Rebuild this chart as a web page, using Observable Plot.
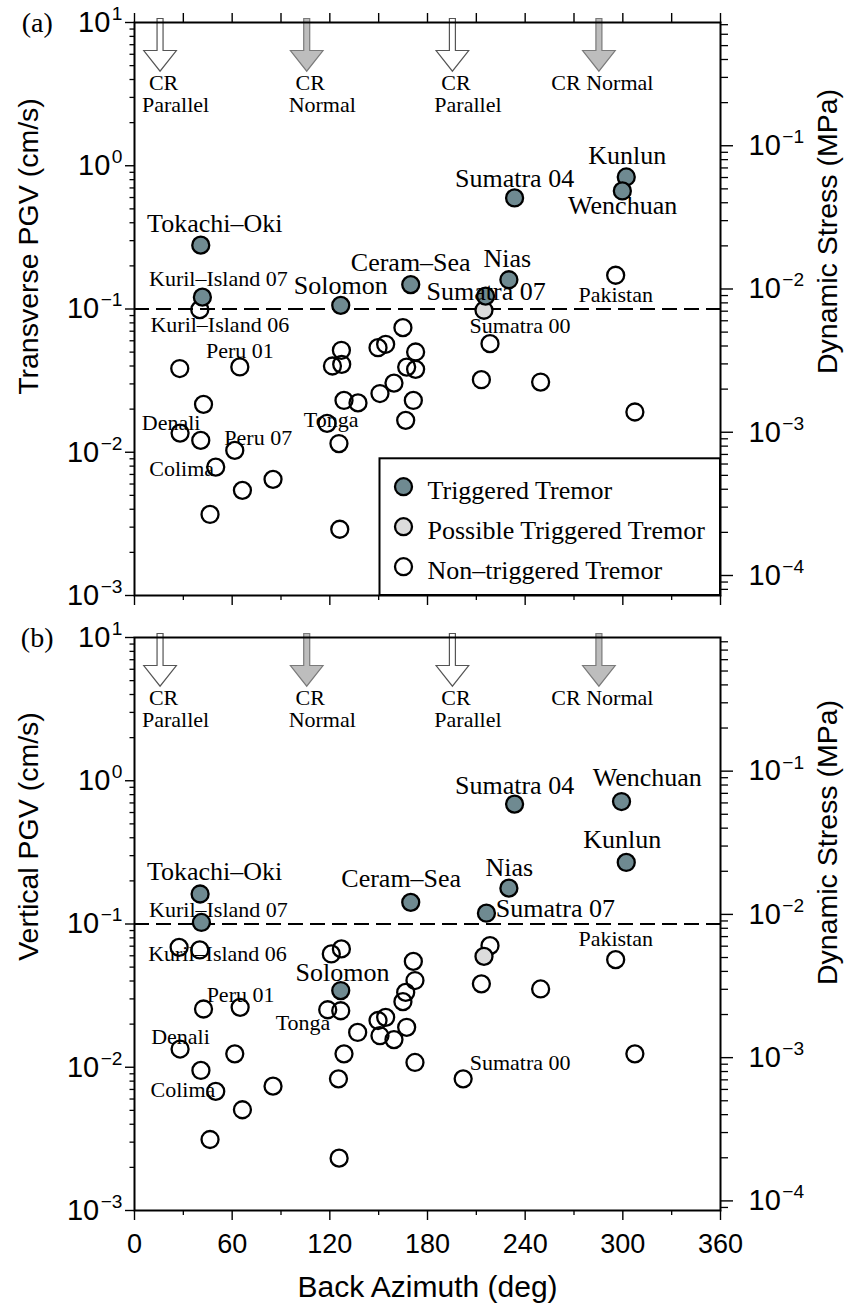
<!DOCTYPE html>
<html><head><meta charset="utf-8">
<script src="https://cdn.jsdelivr.net/npm/d3@7"></script>
<script src="https://cdn.jsdelivr.net/npm/@observablehq/plot@0.6"></script>
<style>
html,body{margin:0;padding:0;background:#fff;}
#chart svg{display:block;}
</style></head>
<body><div id="chart"></div>
<script>
// ---------------- data ----------------
const azimuthMajorTicks = [0, 60, 120, 180, 240, 300, 360];
const azimuthMinorTicks = [30, 90, 150, 210, 270, 330];
const pgvDecades = [1e-3, 1e-2, 1e-1, 1, 10];
const stressDecades = [1e-4, 1e-3, 1e-2, 1e-1];
const triggerThreshold = 0.1;          // cm/s
const stressPerPgvA = 0.0725;          // MPa per cm/s (transverse)
const stressPerPgvB = 0.0857;          // MPa per cm/s (vertical)

// CR arrows (coast-range parallel / normal directions)
const crAz = [15.7, 105.8, 195.3, 285.3];
const crKind = ["parallel", "normal", "parallel", "normal"];
const crLine1 = ["CR", "CR", "CR", "CR Normal"];
const crLine2 = ["Parallel", "Normal", "Parallel", ""];

// Triggered tremor events
const triggeredNames = ["Tokachi–Oki", "Kuril–Island 07", "Solomon", "Ceram–Sea", "Nias", "Sumatra 07", "Sumatra 04", "Kunlun", "Wenchuan"];
const trigAzA  = [40.7, 41.7, 126.7, 169.7, 230.0, 215.7, 233.5, 302.1, 299.7];
const trigPgvA = [0.279, 0.121, 0.106, 0.148, 0.160, 0.123, 0.596, 0.835, 0.667];
const trigAzB  = [40.3, 41.1, 126.7, 169.7, 230.0, 216.2, 233.5, 302.1, 299.2];
const trigPgvB = [0.162, 0.1025, 0.0343, 0.1416, 0.178, 0.119, 0.687, 0.269, 0.716];

// Possible triggered tremor
const possAzA = [214.7], possPgvA = [0.098], possNameA = ["Sumatra 00"];
const possAzB = [214.7], possPgvB = [0.0594], possNameB = [""];

// Non-triggered events, panel (a)
const openAzA = [40.1, 27.8, 64.7, 42.4, 28.0, 40.7, 61.6, 49.9, 66.3, 85.1, 46.4, 126.1, 118.3, 125.6, 127.1, 121.6, 127.3, 128.7, 137.3, 149.6, 154.3, 164.9, 172.7, 167.2, 172.7, 159.4, 150.8, 171.3, 166.6, 218.4, 213.1, 249.5, 307.4, 295.6];
const openPgvA = [0.099, 0.0384, 0.0394, 0.0216, 0.0136, 0.0121, 0.0103, 0.00788, 0.00542, 0.00647, 0.00368, 0.0029, 0.0159, 0.0115, 0.0515, 0.0400, 0.0411, 0.0230, 0.0221, 0.0537, 0.0567, 0.0741, 0.0501, 0.0393, 0.0379, 0.0304, 0.0257, 0.0230, 0.0167, 0.0573, 0.0321, 0.0309, 0.0191, 0.172];
const openNameA = ["Kuril–Island 06", "", "Peru 01", "", "Denali", "", "Peru 07", "Colima", "", "", "", "", "Tonga", "", "", "", "", "", "", "", "", "", "", "", "", "", "", "", "", "", "", "", "", "Pakistan"];

// Non-triggered events, panel (b)
const openAzB = [27.4, 40.1, 42.4, 64.9, 28.0, 61.6, 40.8, 49.9, 85.1, 66.3, 46.4, 125.7, 120.9, 127.1, 118.7, 126.7, 128.7, 125.3, 137.1, 171.3, 172.3, 166.6, 164.9, 149.6, 154.3, 150.8, 159.4, 167.2, 172.3, 218.4, 213.1, 249.5, 295.6, 307.4, 201.9];
const openPgvB = [0.0687, 0.0659, 0.0255, 0.0262, 0.0134, 0.0124, 0.0095, 0.00678, 0.00738, 0.00505, 0.00313, 0.00232, 0.0618, 0.067, 0.0252, 0.0248, 0.0124, 0.0083, 0.0175, 0.0548, 0.0403, 0.0333, 0.0287, 0.0212, 0.0223, 0.0166, 0.0156, 0.0190, 0.0108, 0.0706, 0.0382, 0.0352, 0.0564, 0.0124, 0.0083];
const openNameB = ["", "Kuril–Island 06", "", "Peru 01", "Denali", "", "", "Colima", "", "", "", "", "", "", "Tonga", "", "", "", "", "", "", "", "", "", "", "", "", "", "", "", "", "", "Pakistan", "", "Sumatra 00"];

const legendLabels = ["Triggered Tremor", "Possible Triggered Tremor", "Non–triggered Tremor"];

// ---------------- styling / layout ----------------
const serif = "'Liberation Serif', 'Times New Roman', Times, serif";
const sans = "'Liberation Sans', Arial, Helvetica, sans-serif";
const colTrig = "#6f8a91", colPoss = "#dcdcdc";
const BIG = 26, SMALL = 22, TICKFONT = 29;
// label offsets (px) relative to their event's point: [dx, dy(baseline), fontSize]
const labelLayoutA = {
  "Tokachi–Oki": [14, -13, BIG], "Kuril–Island 07": [16, -11, SMALL], "Kuril–Island 06": [20, 22.5, SMALL],
  "Peru 01": [0, -8.5, SMALL], "Denali": [-9, -3.5, SMALL], "Peru 07": [23.5, -5, SMALL],
  "Colima": [-34, 8.5, SMALL], "Tonga": [4, 3.7, SMALL], "Solomon": [0, -11.7, BIG],
  "Ceram–Sea": [0, -13.3, BIG], "Sumatra 04": [0, -11, BIG], "Kunlun": [1, -13.4, BIG],
  "Wenchuan": [0.3, 22.6, BIG], "Nias": [-1.6, -12.6, BIG], "Sumatra 07": [0.5, 4, BIG],
  "Pakistan": [0, 26.7, SMALL], "Sumatra 00": [36, 22.7, SMALL]
};
const labelLayoutB = {
  "Tokachi–Oki": [14.5, -14, BIG], "Kuril–Island 07": [17, -5, SMALL], "Kuril–Island 06": [17.7, 10.7, SMALL],
  "Peru 01": [0.4, -5, SMALL], "Denali": [0.4, -5, SMALL], "Colima": [-32.8, 5.7, SMALL],
  "Tonga": [-24.7, 20.5, SMALL], "Solomon": [1.7, -10, BIG], "Ceram–Sea": [-9.5, -15.7, BIG],
  "Nias": [0.4, -12.3, BIG], "Sumatra 07": [69, 4, BIG], "Sumatra 04": [0, -10.6, BIG],
  "Wenchuan": [25.7, -15.7, BIG], "Kunlun": [-4, -14, BIG], "Pakistan": [0, -14, SMALL],
  "Sumatra 00": [57, -8.7, SMALL]
};

// ---------------- helpers ----------------
function rowsOf(az, pgv, names, type) {
  return az.map((a, i) => ({az: a, pgv: pgv[i], name: names ? names[i] : "", type}));
}
const expFmt = e => "10^" + (e < 0 ? "\u2212" + (-e) : String(e));
const minorOf = (decs) => decs.flatMap(d => [2,3,4,5,6,7,8,9].map(m => m * d));

const arrowSymbol = {
  draw(ctx) {
    ctx.moveTo(-3, -4); ctx.lineTo(-3, 28); ctx.lineTo(-16.3, 28); ctx.lineTo(0, 48.7);
    ctx.lineTo(16.3, 28); ctx.lineTo(3, 28); ctx.lineTo(3, -4); ctx.closePath();
  }
};
const crRows = crAz.map((a, i) => ({az: a, kind: crKind[i], l1: crLine1[i], l2: crLine2[i]}));

function legendMark(dims) {
  const g = d3.create("svg:g");
  const right = dims.width - dims.marginRight, bottom = dims.height - dims.marginBottom;
  const x0 = right - 340.5, y0 = bottom - 136.7;
  g.append("rect").attr("x", x0).attr("y", y0).attr("width", right - x0).attr("height", bottom - y0)
    .attr("fill", "white").attr("stroke", "black").attr("stroke-width", 2);
  const fills = [colTrig, colPoss, "none"];
  legendLabels.forEach((t, i) => {
    const cy = y0 + 28.4 + 40 * i;
    g.append("circle").attr("cx", x0 + 24).attr("cy", cy).attr("r", 8.5)
      .attr("fill", fills[i]).attr("stroke", "black").attr("stroke-width", 2.3);
    g.append("text").attr("x", x0 + 48).attr("y", cy + 12.3).attr("font-family", serif)
      .attr("text-anchor", "start").attr("font-size", 26).attr("fill", "black").text(t);
  });
  return g.node();
}

function supify(svg) {
  const ns = "http://www.w3.org/2000/svg";
  svg.querySelectorAll("text").forEach(t => {
    const m = /^10\^(.+)$/.exec(t.textContent);
    if (!m) return;
    while (t.firstChild) t.removeChild(t.firstChild);
    const a = document.createElementNS(ns, "tspan"); a.textContent = "10";
    const b = document.createElementNS(ns, "tspan"); b.textContent = m[1];
    b.setAttribute("dy", "-0.62em"); b.setAttribute("dx", "1.5"); b.setAttribute("font-size", "0.66em");
    t.append(a, b);
  });
}

function panel(o) {
  const {open, poss, trig, factor, yTitle, tag, height, marginTop, marginBottom, bottomLabels, topTicks, legend, layout, yTitleDy, sTitleDy} = o;
  const all = [...open, ...poss, ...trig];
  const lo = 1e-3 * 0.999, hi = 10 * 1.001;
  const stressMinor = minorOf([1e-5, 1e-4, 1e-3, 1e-2, 1e-1]).map(s => s / factor).filter(v => v >= lo && v <= hi);
  const marks = [
    // CR arrows
    Plot.dot(crRows.filter(d => d.kind === "parallel"), {x: "az", frameAnchor: "top", symbol: arrowSymbol, r: 5, fill: "white", stroke: "#555", strokeWidth: 1.2}),
    Plot.dot(crRows.filter(d => d.kind === "normal"), {x: "az", frameAnchor: "top", symbol: arrowSymbol, r: 5, fill: "#bdbdbd", stroke: "#7a7a7a", strokeWidth: 1.2}),
    Plot.text(crRows, {x: "az", text: "l1", frameAnchor: "top", textAnchor: "middle", dx: 3.5, dy: 67.5, lineAnchor: "bottom", fontFamily: serif, fontSize: 22, fill: "black"}),
    Plot.text(crRows, {x: "az", text: "l2", frameAnchor: "top", textAnchor: "middle", dx: 15.5, dy: 89.5, lineAnchor: "bottom", fontFamily: serif, fontSize: 22, fill: "black"}),
    // threshold
    Plot.ruleY([triggerThreshold], {stroke: "black", strokeWidth: 2, strokeDasharray: "15,7"}),
    // points
    Plot.dot(open, {x: "az", y: "pgv", r: 8.5, fill: "none", stroke: "black", strokeWidth: 2.3}),
    Plot.dot(poss, {x: "az", y: "pgv", r: 8.5, fill: colPoss, stroke: "black", strokeWidth: 2.3}),
    Plot.dot(trig, {x: "az", y: "pgv", r: 8.5, fill: colTrig, stroke: "black", strokeWidth: 2.3}),
    // event labels
    ...Object.entries(layout).map(([name, [dx, dy, fs]]) =>
      Plot.text(all.filter(d => d.name === name), {x: "az", y: "pgv", text: "name", dx, dy, lineAnchor: "bottom", fontFamily: serif, fontSize: fs, fill: "black"})),
    // axes
    Plot.axisY(pgvDecades, {anchor: "left", tickSize: 9, tickPadding: 3, tickFormat: d => expFmt(Math.round(Math.log10(d))), fontSize: TICKFONT, fontFamily: sans, label: null, strokeWidth: 1.4}),
    Plot.axisY(minorOf([1e-3, 1e-2, 1e-1, 1]), {anchor: "left", tickSize: 4.5, tickFormat: () => "", label: null, strokeWidth: 1.3}),
    Plot.axisY(stressDecades.map(s => s / factor), {anchor: "right", tickSize: 12, tickPadding: 16, tickFormat: d => expFmt(Math.round(Math.log10(d * factor))), fontSize: TICKFONT, fontFamily: sans, label: null, strokeWidth: 1.4}),
    Plot.axisY(stressMinor, {anchor: "right", tickSize: 7, tickFormat: () => "", label: null, strokeWidth: 1.3}),
    Plot.axisX(azimuthMajorTicks, {anchor: "bottom", tickSize: 10, tickPadding: 13, tickFormat: bottomLabels ? (d => String(d)) : (() => ""), fontSize: 27, fontFamily: sans, label: null, strokeWidth: 1.4}),
    Plot.axisX(azimuthMinorTicks, {anchor: "bottom", tickSize: 5, tickFormat: () => "", label: null, strokeWidth: 1.3}),
    // titles
    Plot.text([yTitle], {frameAnchor: "left", textAnchor: "middle", rotate: -90, dx: -105.5, dy: yTitleDy, fontFamily: sans, fontSize: 28.5, fill: "black"}),
    Plot.text(["Dynamic Stress (MPa)"], {frameAnchor: "right", textAnchor: "middle", rotate: -90, dx: 107, dy: sTitleDy, fontFamily: sans, fontSize: 28.5, fill: "black"}),
    Plot.text([tag], {frameAnchor: "top-left", textAnchor: "middle", dx: -97.3, dy: 9, lineAnchor: "bottom", fontFamily: serif, fontSize: 28, fill: "black"})
  ];
  if (topTicks) {
    marks.push(Plot.axisX(azimuthMajorTicks.concat(azimuthMinorTicks), {anchor: "top", tickSize: 10, tickFormat: () => "", label: null, strokeWidth: 1.4}));
  }
  if (bottomLabels) {
    marks.push(Plot.text(["Back Azimuth (deg)"], {frameAnchor: "bottom", textAnchor: "middle", dy: 86, lineAnchor: "bottom", fontFamily: sans, fontSize: 30, fill: "black"}));
  }
  if (legend) marks.push((index, scales, values, dims) => legendMark(dims));
  marks.push(Plot.frame({stroke: "black", strokeWidth: 2}));
  const svg = Plot.plot({
    width: 846, height, marginLeft: 134, marginRight: 126, marginTop, marginBottom,
    x: {domain: [0, 360], axis: null},
    y: {type: "log", domain: [1e-3, 10], axis: null},
    style: {background: "white", color: "black", fontFamily: sans, overflow: "visible"},
    marks
  });
  supify(svg);
  return svg;
}

const root = document.getElementById("chart");
root.append(panel({
  open: rowsOf(openAzA, openPgvA, openNameA, "open"),
  poss: rowsOf(possAzA, possPgvA, possNameA, "poss"),
  trig: rowsOf(trigAzA, trigPgvA, triggeredNames, "trig"),
  factor: stressPerPgvA, yTitle: "Transverse PGV (cm/s)", tag: "(a)",
  height: 612, marginTop: 22, marginBottom: 17, bottomLabels: false, topTicks: true, legend: true,
  layout: labelLayoutA, yTitleDy: -62.5, sTitleDy: -77.5
}));
root.append(panel({
  open: rowsOf(openAzB, openPgvB, openNameB, "open"),
  poss: rowsOf(possAzB, possPgvB, possNameB, "poss"),
  trig: rowsOf(trigAzB, trigPgvB, triggeredNames, "trig"),
  factor: stressPerPgvB, yTitle: "Vertical PGV (cm/s)", tag: "(b)",
  height: 692, marginTop: 25, marginBottom: 94, bottomLabels: true, topTicks: false, legend: false,
  layout: labelLayoutB, yTitleDy: -87.5, sTitleDy: -81.5
}));
</script>
</body></html>
